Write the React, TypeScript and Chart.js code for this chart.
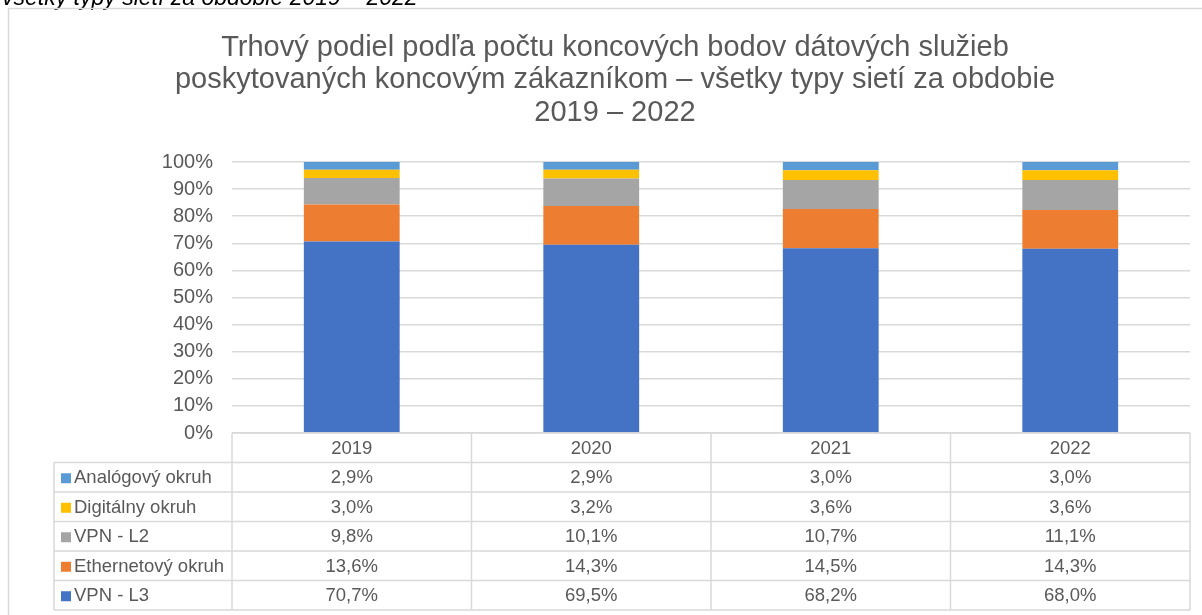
import React, { useEffect, useRef } from "react";
import { Chart, registerables } from "chart.js";

Chart.register(...registerables);

const categories = ["2019", "2020", "2021", "2022"];
const vpnL3 = [70.7, 69.5, 68.2, 68.0];
const ethernet = [13.6, 14.3, 14.5, 14.3];
const vpnL2 = [9.8, 10.1, 10.7, 11.1];
const digital = [3.0, 3.2, 3.6, 3.6];
const analog = [2.9, 2.9, 3.0, 3.0];

const seriesNames = ["VPN - L3", "Ethernetový okruh", "VPN - L2", "Digitálny okruh", "Analógový okruh"];
const seriesColors = ["#4472C4", "#ED7D31", "#A5A5A5", "#FFC000", "#5B9BD5"];
const yTicks = [0, 10, 20, 30, 40, 50, 60, 70, 80, 90, 100];

const titleLines = [
  "Trhový podiel podľa počtu koncových bodov dátových služieb",
  "poskytovaných koncovým zákazníkom – všetky typy sietí za obdobie",
  "2019 – 2022",
];
const captionText = "všetky typy sietí za obdobie 2019 – 2022";

const FONT = "'Liberation Sans', Arial, sans-serif";
const TEXT = "#595959";
const LINE = "#d9d9d9";

const fmt = (v: number) => v.toFixed(1).replace(".", ",") + "%";

const decorPlugin = {
  id: "decor",
  beforeDraw(chart: any) {
    const ctx = chart.ctx;
    ctx.save();
    ctx.fillStyle = "#ffffff";
    ctx.fillRect(0, 0, chart.width, chart.height);
    // caption partially cut off at the top
    ctx.font = `italic 23px ${FONT}`;
    ctx.fillStyle = "#000000";
    ctx.textAlign = "left";
    ctx.textBaseline = "alphabetic";
    ctx.fillText(captionText, 2, 4.5);
    // chart border
    ctx.strokeStyle = LINE;
    ctx.lineWidth = 1.5;
    ctx.strokeRect(8.5, 8.5, 1210, 640);
    // title
    ctx.fillStyle = TEXT;
    ctx.font = `29px ${FONT}`;
    ctx.textAlign = "center";
    ctx.textBaseline = "alphabetic";
    const ys = [55.5, 88, 120.5];
    titleLines.forEach((t, i) => ctx.fillText(t, 615, ys[i]));
    ctx.restore();
  },
  afterDraw(chart: any) {
    const ctx = chart.ctx;
    const x = chart.scales.x;
    const area = chart.chartArea;
    const n = categories.length;
    const colW = (area.right - area.left) / n;
    const top = area.bottom;
    const rowH = 29.5;
    const legendLeft = 54;
    const rows = chart.data.datasets.map((d: any, i: number) => i).reverse();
    const tableBottom = top + rowH * (rows.length + 1);
    ctx.save();
    ctx.strokeStyle = LINE;
    ctx.lineWidth = 1.5;
    ctx.beginPath();
    ctx.moveTo(area.left, top);
    ctx.lineTo(area.right, top);
    for (let k = 1; k <= rows.length + 1; k++) {
      const y = top + rowH * k;
      ctx.moveTo(legendLeft, y);
      ctx.lineTo(area.right, y);
    }
    ctx.moveTo(legendLeft, top + rowH);
    ctx.lineTo(legendLeft, tableBottom);
    for (let c = 0; c <= n; c++) {
      const xx = area.left + colW * c;
      ctx.moveTo(xx, top);
      ctx.lineTo(xx, tableBottom);
    }
    ctx.stroke();

    ctx.fillStyle = TEXT;
    ctx.font = `18.5px ${FONT}`;
    ctx.textBaseline = "middle";
    ctx.textAlign = "center";
    categories.forEach((c, i) => {
      ctx.fillText(c, x.getPixelForValue(i), top + rowH / 2 + 1);
    });
    rows.forEach((di: number, r: number) => {
      const ds = chart.data.datasets[di];
      const yc = top + rowH * (r + 1) + rowH / 2 + 1;
      ctx.fillStyle = ds.backgroundColor;
      ctx.fillRect(61, yc - 5, 10, 10);
      ctx.fillStyle = TEXT;
      ctx.textAlign = "left";
      ctx.fillText(ds.label, 74, yc);
      ctx.textAlign = "center";
      (ds.data as number[]).forEach((v, i) => {
        ctx.fillText(fmt(v), x.getPixelForValue(i), yc);
      });
    });
    ctx.restore();
  },
};

export default function App() {
  const ref = useRef<HTMLCanvasElement | null>(null);
  useEffect(() => {
    if (!ref.current) return;
    const values = [vpnL3, ethernet, vpnL2, digital, analog];
    const chart = new Chart(ref.current, {
      type: "bar",
      data: {
        labels: categories,
        datasets: values.map((v, i) => ({
          label: seriesNames[i],
          data: v,
          backgroundColor: seriesColors[i],
          borderWidth: 0,
          barPercentage: 0.4,
          categoryPercentage: 1.0,
        })),
      },
      options: {
        responsive: false,
        animation: false,
        devicePixelRatio: 1,
        layout: { padding: { left: 0, top: 162, right: 12, bottom: 182 } },
        plugins: {
          legend: { display: false },
          title: { display: false },
          tooltip: { enabled: false },
        },
        scales: {
          x: { stacked: true, display: false },
          y: {
            stacked: true,
            min: 0,
            max: 100,
            afterFit: (s: any) => {
              s.width = 232;
            },
            afterBuildTicks: (s: any) => {
              s.ticks = yTicks.map((v) => ({ value: v }));
            },
            border: { display: false },
            grid: { color: LINE, lineWidth: 1.5, drawTicks: false },
            ticks: {
              padding: 19,
              color: TEXT,
              font: { size: 20, family: FONT },
              callback: (v: any) => v + "%",
            },
          },
        },
      },
      plugins: [decorPlugin],
    });
    return () => chart.destroy();
  }, []);
  return (
    <div style={{ position: "fixed", left: 0, top: 0, width: 1202, height: 615, overflow: "hidden", background: "#fff" }}>
      <canvas ref={ref} width={1202} height={615} style={{ width: 1202, height: 615, display: "block" }} />
    </div>
  );
}
